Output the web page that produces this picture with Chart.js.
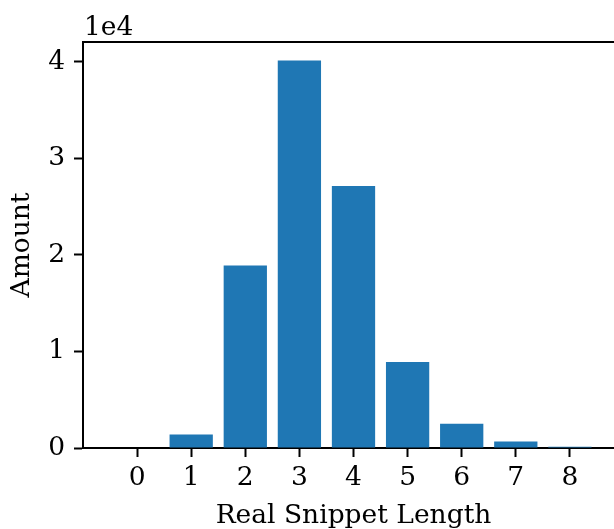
<!DOCTYPE html>
<html>
<head>
<meta charset="utf-8">
<script src="https://cdn.jsdelivr.net/npm/chart.js@4/dist/chart.umd.min.js"></script>
<style>
html,body{margin:0;padding:0;background:#fff;overflow:hidden;width:614px;height:529px;}
#wrap{position:absolute;left:0;top:0;width:640px;height:529px;}
canvas{display:block;}
</style>
</head>
<body>
<div id="wrap"><canvas id="c" width="640" height="529"></canvas></div>
<script>
const categories = [0, 1, 2, 3, 4, 5, 6, 7, 8];
const amounts = [0, 1400, 18900, 40150, 27150, 8900, 2520, 670, 130];
const yTicks = [0, 10000, 20000, 30000, 40000];
const offsetLabel = '1e4';
const xTitle = 'Real Snippet Length';
const yTitle = 'Amount';

const FONT = 'DejaVu Serif';
const FS = 26.5;

const frame = {
  id: 'frame',
  afterDraw(chart) {
    const {ctx, chartArea} = chart;
    ctx.save();
    ctx.fillStyle = '#000';
    ctx.font = FS + 'px "' + FONT + '"';
    ctx.textAlign = 'left';
    ctx.textBaseline = 'alphabetic';
    ctx.fillText(offsetLabel, chartArea.left + 1, chartArea.top - 7);
    ctx.restore();
  }
};

new Chart(document.getElementById('c'), {
  type: 'bar',
  data: {
    datasets: [{
      data: categories.map((c, i) => ({x: c, y: amounts[i]})),
      backgroundColor: '#1f77b4',
      borderWidth: 0,
      barPercentage: 0.8,
      categoryPercentage: 1.0
    }]
  },
  plugins: [frame],
  options: {
    responsive: false,
    animation: false,
    devicePixelRatio: 1,
    layout: {padding: {left: 0, right: 16, top: 0, bottom: 0}},
    plugins: {legend: {display: false}, tooltip: {enabled: false}},
    scales: {
      x: {
        type: 'linear',
        position: 'bottom',
        offset: false,
        min: -1,
        max: 9,
        afterBuildTicks: (axis) => { axis.ticks = categories.map(v => ({value: v})); },
        afterFit: (s) => { s.height = 81; },
        ticks: {
          color: '#000',
          font: {family: FONT, size: FS},
          padding: 5,
          maxRotation: 0,
          autoSkip: false,
          callback: (v) => String(v)
        },
        grid: {display: true, offset: false, drawOnChartArea: false, drawTicks: true, tickLength: 9, tickWidth: 2, tickColor: '#000'},
        border: {display: true, color: '#000', width: 2},
        title: {display: true, text: xTitle, color: '#000', font: {family: FONT, size: FS}, padding: {top: 0, bottom: -3}}
      },
      x2: {
        type: 'linear',
        position: 'top',
        offset: false,
        min: -1,
        max: 9,
        afterFit: (s) => { s.height = 42; },
        ticks: {display: false},
        grid: {display: false, drawTicks: false},
        border: {display: true, color: '#000', width: 2}
      },
      y: {
        type: 'linear',
        position: 'left',
        min: 0,
        max: 42070,
        afterBuildTicks: (axis) => { axis.ticks = yTicks.map(v => ({value: v})); },
        afterFit: (s) => { s.width = 83; },
        ticks: {
          color: '#000',
          font: {family: FONT, size: FS},
          padding: 9,
          callback: (v) => String(v / 10000)
        },
        grid: {display: true, drawOnChartArea: false, drawTicks: true, tickLength: 9, tickWidth: 2, tickColor: '#000'},
        border: {display: true, color: '#000', width: 2},
        title: {display: true, text: yTitle, color: '#000', font: {family: FONT, size: FS}, padding: {top: 6, bottom: 0}}
      }
    }
  }
});
</script>
</body>
</html>
